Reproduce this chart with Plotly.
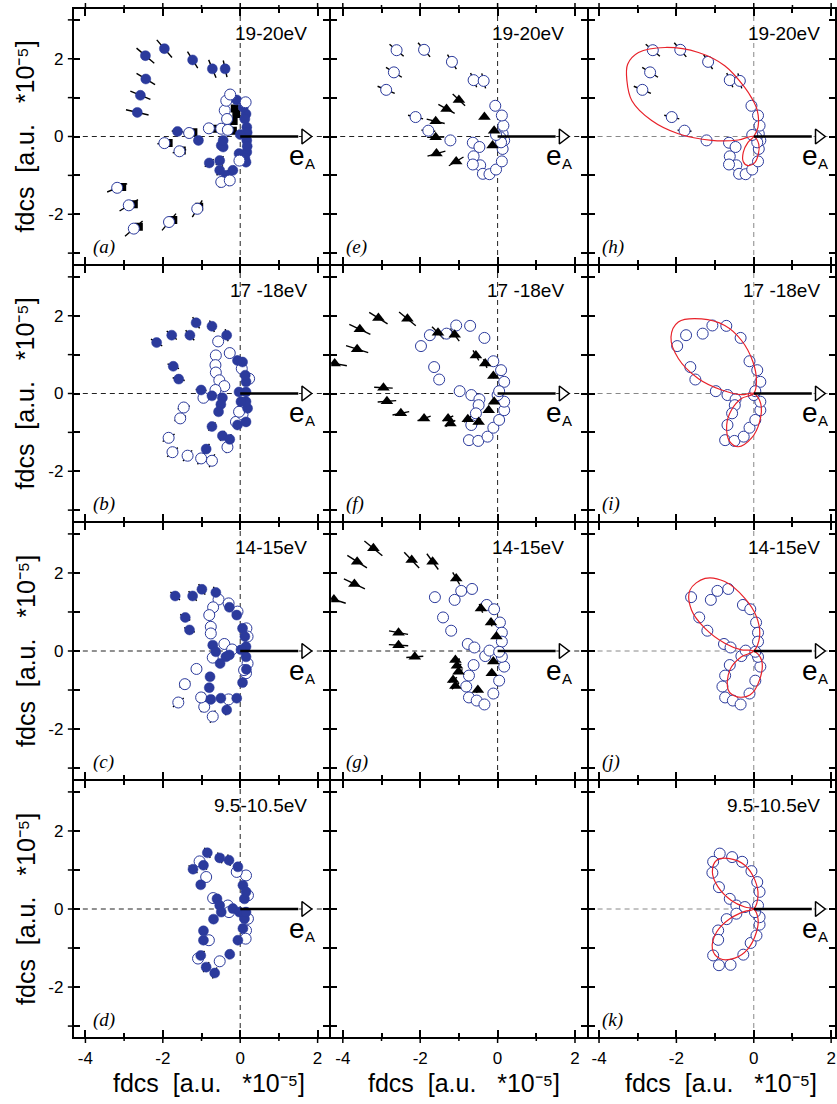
import math
import plotly.graph_objects as go

# ------------------------------------------------------------------ data
# (a) 19-20 eV : filled circles, open circles, hidden squares
a_fill_x = [-2.45, -1.96, -1.23, -0.72, -0.39, -2.44, -2.58, -2.66, -1.62, -1.08, -0.80, -0.49, -0.53,
            -0.09, 0.15, 0.17, 0.17, 0.17, 0.15, -0.03, -0.19, -0.36, -0.53, -0.44, -0.44, 0.08, 0.12,
            0.18, 0.18, 0.12, 0.00]
a_fill_y = [2.08, 2.26, 1.97, 1.74, 1.74, 1.48, 1.06, 0.62, 0.13, -0.10, -0.68, -0.23, -0.62,
            0.94, 0.58, 0.24, -0.10, -0.40, -0.66, -0.44, -0.87, -1.00, -0.87, -0.27, -0.10, 0.75, 0.45,
            0.10, -0.25, -0.55, 0.05]
a_fill_e = [0.30, 0.30, 0.25, 0.25, 0.22, 0.28, 0.28, 0.30, 0.15, 0.12, 0.15, 0.10, 0.15,
            0.12, 0.10, 0.05, 0.05, 0.08, 0.10, 0.08, 0.12, 0.15, 0.15, 0.10, 0.10, 0.10, 0.06,
            0.05, 0.05, 0.08, 0.04]
a_open_x = [-3.18, -2.88, -2.75, -1.84, -1.11, -1.96, -1.57, -1.32, -0.81, -0.49, -0.40, -0.36, -0.26,
            -0.49, -0.27, 0.14, -0.02, -0.34, -0.32]
a_open_y = [-1.32, -1.77, -2.37, -2.20, -1.86, -0.17, -0.38, 0.09, 0.21, 0.20, 0.67, 0.92, 1.08,
            -1.17, -1.13, 0.88, -0.62, 0.45, 0.17]
a_open_e = [0.28, 0.28, 0.30, 0.28, 0.25, 0.18, 0.18, 0.15, 0.15, 0.12, 0.12, 0.12, 0.14,
            0.15, 0.15, 0.12, 0.10, 0.12, 0.12]
a_sq_x = [-3.05, -2.75, -2.62, -1.73, -1.06, -1.85, -1.51, -1.21, -0.70, -0.19, -0.10, -0.17, -0.14]
a_sq_y = [-1.30, -1.74, -2.32, -2.15, -1.81, -0.17, -0.36, 0.11, 0.20, 0.15, 0.58, 0.40, 0.72]

# (e)/(h) 19-20 eV : open circles, (e) triangles, (h) theory
e_open_x = [-2.61, -1.90, -1.18, -0.62, -0.36, -2.68, -2.88, -2.12, -1.79, -1.22, -0.64, -0.47, -0.62,
            -0.45, -0.38, -0.21, -0.04, 0.11, 0.13, 0.17, 0.13, 0.15, 0.11, -0.06, 0.07, 0.09, -0.04, -0.64]
e_open_y = [2.22, 2.23, 1.92, 1.45, 1.43, 1.65, 1.20, 0.50, 0.15, -0.10, -0.16, -0.27, -0.51,
            -0.74, -0.96, -0.97, -0.85, -0.64, -0.32, -0.10, 0.07, 0.28, 0.54, 0.79, -0.02, -0.15, 0.04, -0.72]
e_open_e = [0.24, 0.24, 0.22, 0.20, 0.20, 0.24, 0.24, 0.20, 0.18, 0, 0, 0, 0,
            0, 0, 0, 0, 0, 0, 0, 0, 0, 0, 0, 0, 0, 0, 0]
e_tri_x = [-1.00, -1.32, -1.60, -1.60, -1.58, -1.07, -0.34, -0.13, -0.09]
e_tri_y = [0.94, 0.71, 0.39, -0.02, -0.44, -0.64, 0.50, -0.23, 0.15]
e_tri_e = [0.22, 0.24, 0.24, 0.22, 0.24, 0.22, 0.05, 0.05, 0.05]
h_th_x = [0.00, 0.11, 0.09, -0.06, -0.23, -0.75, -1.43, -2.29, -2.98, -3.26, -3.28, -3.15, -2.64, -1.95,
          -1.09, -0.40, 0.00, 0.13, 0.12, 0.02, -0.15, -0.27, -0.27, -0.15, 0.00]
h_th_y = [0.00, 0.24, 0.67, 1.00, 1.26, 1.82, 2.16, 2.29, 2.16, 1.86, 1.44, 0.92, 0.41, 0.07,
          -0.10, -0.09, 0.00, -0.20, -0.45, -0.68, -0.75, -0.65, -0.40, -0.15, 0.00]

# (b) 17-18 eV
b_fill_x = [-2.16, -1.77, -1.30, -1.14, -0.73, -0.35, -1.73, -1.59, -1.01, -0.73, -0.46, -0.50, -0.56,
            -0.73, -0.46, -0.27, -0.88, -0.07, 0.15, 0.19, 0.15, 0.15, 0.15, 0.13, 0.06, -0.07, -0.03, 0.02]
b_fill_y = [1.31, 1.50, 1.50, 1.82, 1.73, 1.50, 0.70, 0.37, 0.09, -0.06, -0.11, -0.28, -0.47,
            -0.85, -1.09, -1.18, -1.43, -0.81, -0.73, -0.38, -0.21, 0.04, 0.30, 0.47, 0.81, 0.85, 0.04, -0.21]
b_fill_e = [0.17, 0.17, 0.17, 0.17, 0.16, 0.16, 0.16, 0.16, 0.14, 0.13, 0.12, 0.12, 0.12,
            0.14, 0.14, 0.14, 0.16, 0.12, 0.12, 0.12, 0.10, 0.10, 0.10, 0.10, 0.12, 0.12, 0.05, 0.05]
b_open_x = [-0.57, -0.63, -0.64, -0.63, -0.54, -0.41, -0.64, -0.95, -1.46, -1.55, -1.85, -1.75, -1.36,
            -1.01, -0.73, -0.33, -0.27, -0.11, 0.06, 0.23, 0.04, -0.03]
b_open_y = [1.34, 0.98, 0.73, 0.54, 0.34, 0.19, 0.09, -0.11, -0.36, -0.64, -1.14, -1.51, -1.60,
            -1.67, -1.73, -1.38, 1.04, -0.73, -0.54, 0.38, 0.64, -0.47]
b_open_e = [0, 0, 0, 0, 0, 0, 0, 0, 0.16, 0.16, 0.18, 0.18, 0.18,
            0.18, 0.18, 0.16, 0, 0, 0, 0, 0, 0]

# (f)/(i) 17-18 eV
f_tri_x = [-3.08, -2.33, -3.56, -3.63, -4.21, -1.54, -1.11, -0.56, -0.32, -0.11, -2.95, -2.86, -2.50,
           -1.90, -1.28, -1.22, -0.77, -0.49, -0.23, -0.09]
f_tri_y = [1.94, 1.92, 1.65, 1.14, 0.77, 1.56, 1.51, 0.98, 0.77, 0.45, 0.15, -0.20, -0.51,
           -0.64, -0.64, -0.77, -0.66, -0.73, -0.43, -0.21]
f_tri_e = [0.28, 0.28, 0.30, 0.30, 0.32, 0.22, 0.20, 0.15, 0.12, 0.06, 0.24, 0.24, 0.22,
           0.18, 0.15, 0.15, 0.12, 0.10, 0.06, 0.05]
f_open_x = [-1.98, -1.75, -1.32, -1.07, -0.71, -0.34, -1.64, -1.51, -0.98, -0.68, -0.47, -0.49, -0.56,
            -0.68, -0.74, -0.50, -0.26, -0.11, 0.04, 0.17, 0.17, 0.17, 0.09, -0.11, 0.00, 0.04]
f_open_y = [1.22, 1.50, 1.54, 1.75, 1.74, 1.43, 0.68, 0.36, 0.06, -0.04, -0.15, -0.30, -0.51,
            -0.81, -1.20, -1.22, -1.11, -0.88, -0.68, -0.43, -0.21, 0.30, 0.60, 0.83, -0.04, 0.06]
i_th_x = [0.00, 0.07, -0.02, -0.32, -0.75, -1.35, -1.95, -2.14, -1.95, -1.43, -0.83, -0.32, 0.00,
          0.18, 0.15, -0.06, -0.40, -0.62, -0.70, -0.58, -0.32, 0.00]
i_th_y = [0.00, 0.30, 0.81, 1.37, 1.75, 1.92, 1.84, 1.45, 0.90, 0.38, 0.09, -0.03, 0.00,
          -0.26, -0.73, -1.15, -1.37, -1.24, -0.81, -0.43, -0.13, 0.00]

# (c) 14-15 eV
c_fill_x = [-1.68, -1.23, -0.99, -0.63, -1.42, -1.31, -0.28, -0.09, 0.06, 0.12, -0.71, -0.63, -0.37,
            -0.28, -0.52, -0.78, -0.80, -0.76, -0.50, -0.35, -0.09, 0.06, 0.16, 0.15, 0.15, 0.02]
c_fill_y = [1.41, 1.41, 1.58, 1.50, 0.86, 0.54, 1.12, 0.92, 0.58, 0.37, 0.15, -0.02, -0.15,
            -0.10, -0.32, -0.66, -0.94, -1.24, -1.21, -1.51, -1.21, -0.81, -0.47, -0.15, 0.11, 0.03]
c_fill_e = [0.16, 0.16, 0.16, 0.16, 0.15, 0.15, 0.12, 0.10, 0.08, 0.08, 0.10, 0.08, 0.08,
            0.08, 0.08, 0.10, 0.10, 0.13, 0.12, 0.14, 0.10, 0.08, 0.08, 0.05, 0.05, 0.04]
c_open_x = [-0.56, -0.70, -0.80, -0.76, -0.76, -0.41, -0.21, -0.71, -1.13, -1.43, -1.60, -0.93, -0.71,
            -1.01, -0.30, -0.30, -0.07, 0.16, 0.19, 0.19, 0.15, 0.10]
c_open_y = [1.32, 1.12, 0.92, 0.62, 0.45, 0.18, 0.04, -0.17, -0.46, -0.85, -1.32, -1.43, -1.68,
            -1.19, -1.24, 1.22, 1.01, 0.58, 0.37, -0.32, -0.57, -0.49]
c_open_e = [0, 0, 0, 0, 0, 0, 0, 0, 0.15, 0.16, 0.18, 0.16, 0.17,
            0.15, 0, 0, 0, 0, 0, 0, 0, 0]

# (g)/(j) 14-15 eV
g_tri_x = [-3.21, -3.63, -2.22, -1.68, -3.70, -4.23, -1.07, -0.43, -0.17, -0.03, -2.56, -2.56, -2.14,
           -1.09, -1.05, -1.01, -1.15, -1.09, -0.51, -0.15, -0.11]
g_tri_y = [2.63, 2.29, 2.33, 2.29, 1.72, 1.32, 1.86, 1.09, 0.73, 0.37, 0.47, 0.15, -0.15,
           -0.23, -0.38, -0.53, -0.74, -0.90, -1.00, -0.57, -0.27]
g_tri_e = [0.30, 0.30, 0.28, 0.25, 0.30, 0.32, 0.18, 0.12, 0.10, 0.05, 0.25, 0.25, 0.22,
           0.12, 0.12, 0.12, 0.12, 0.12, 0.08, 0.05, 0.04]
g_open_x = [-1.62, -1.11, -0.94, -0.66, -1.41, -1.20, -0.28, -0.09, 0.06, 0.11, 0.11, -0.77, -0.60,
            -0.32, -0.21, -0.62, -0.74, -0.81, -0.74, -0.54, -0.34, -0.11, 0.04, 0.17, 0.11, 0.04]
g_open_y = [1.38, 1.31, 1.54, 1.59, 0.86, 0.52, 1.18, 1.07, 0.73, 0.47, 0.24, 0.18, 0.09,
            -0.13, 0.01, -0.36, -0.63, -0.91, -1.19, -1.27, -1.37, -1.09, -0.76, -0.40, -0.15, -0.02]
j_th_x = [0.00, 0.15, 0.07, -0.23, -0.75, -1.26, -1.65, -1.61, -1.26, -0.75, -0.32, 0.00,
          0.20, 0.15, -0.10, -0.45, -0.66, -0.62, -0.32, 0.00]
j_th_y = [0.00, 0.37, 0.88, 1.35, 1.78, 1.86, 1.56, 1.05, 0.58, 0.20, 0.03, 0.00,
          -0.23, -0.74, -1.13, -1.17, -1.00, -0.49, -0.15, 0.00]

# (d) 9.5-10.5 eV
d_fill_x = [-0.85, -0.53, -0.29, -1.22, -0.95, -1.02, -0.60, -0.53, -0.49, -0.69, -0.95, -0.95, -1.02,
            -0.88, -0.66, -0.27, -0.06, 0.07, 0.11, 0.11, 0.07, -0.06, -0.19, -0.02, 0.15, 0.15]
d_fill_y = [1.44, 1.31, 1.25, 1.02, 1.12, 0.62, 0.26, 0.09, -0.08, -0.26, -0.56, -0.80, -1.19,
            -1.49, -1.64, -1.16, -0.80, -0.50, -0.25, 0.26, 0.61, 1.08, 0.01, -0.08, 0.44, -0.08]
d_fill_e = [0.15, 0.15, 0.15, 0.15, 0.14, 0.12, 0.08, 0.06, 0.06, 0.08, 0.10, 0.12, 0.15,
            0.15, 0.15, 0.13, 0.10, 0.08, 0.06, 0.06, 0.08, 0.12, 0.04, 0.04, 0.05, 0.04]
d_open_x = [-1.05, -0.88, -0.70, -0.32, -0.29, -0.81, -1.09, -0.53, 0.15, 0.20, 0.15, 0.14, -0.09, 0.20]
d_open_y = [1.22, 0.82, 0.28, 0.09, -0.08, -0.80, -1.27, -1.34, 0.86, 0.35, -0.55, -0.76, 0.95, -0.25]

# (k) 9.5-10.5 eV
k_open_x = [-0.88, -0.56, -0.30, -1.05, -1.07, -0.90, -0.62, -0.45, -0.23, -0.45, -0.70, -0.92, -0.92,
            -1.05, -0.90, -0.60, -0.27, -0.08, 0.07, 0.15, 0.15, 0.15, 0.09, -0.06, 0.03, 0.11]
k_open_y = [1.42, 1.33, 1.21, 1.21, 0.93, 0.56, 0.26, 0.09, 0.05, -0.12, -0.26, -0.55, -0.79,
            -1.19, -1.44, -1.43, -1.17, -0.87, -0.68, -0.40, -0.21, 0.44, 0.69, 0.97, -0.08, 0.09]
k_th_x = [0.00, 0.11, 0.03, -0.23, -0.62, -0.96, -1.07, -0.92, -0.58, -0.23, 0.00,
          0.11, 0.07, -0.15, -0.49, -0.88, -1.07, -0.96, -0.62, -0.23, 0.00]
k_th_y = [0.00, 0.35, 0.74, 1.12, 1.29, 1.25, 0.95, 0.56, 0.22, 0.05, 0.00,
          -0.25, -0.59, -1.02, -1.26, -1.27, -1.02, -0.59, -0.25, -0.06, 0.00]

energy_labels = ["19-20eV", "17 -18eV", "14-15eV", "9.5-10.5eV"]
panel_letters = [["a", "e", "h"], ["b", "f", "i"], ["c", "g", "j"], ["d", None, "k"]]
x_tick_vals = [-4, -2, 0, 2]
x_tick_text = ["-4", "-2", "0", "2"]
x_minor_vals = [-3, -1, 1]
y_tick_vals = [-2, 0, 2]
y_tick_text = ["-2", "0", "2"]
y_minor_vals = [-3, -1, 1, 3]

# ------------------------------------------------------------------ layout constants
W, H = 837, 1104
LW = 2
# plot-area pixel boxes (a gap of LW so that neighbouring axis lines coincide)
COL_PX = [(74, 330), (332, 588), (590, 837)]
ROW_PX = [(9, 264), (266, 521), (523, 779), (781, 1037)]
X_RANGES = [[-4.30, 2.30], [-4.30, 2.30], [-4.27, 2.10]]
Y_RANGE = [-3.28, 3.28]
BLUE = "#2b3a9c"
RED = "#e8222a"
FONT = "Liberation Sans"
EA_LEN = 1.5   # arrow shaft length (decoration)
EA_HEAD = 1.68
OUT_MAJOR, OUT_MINOR = 5, 3   # outward part of the crossing ticks on the outer frame (px)

fig = go.Figure()


def radial(xs, ys, es):
    sx, sy = [], []
    for x, y, e in zip(xs, ys, es):
        r = math.hypot(x, y)
        if e <= 0 or r == 0:
            continue
        ux, uy = x / r, y / r
        sx += [x - e * ux, x + e * ux, None]
        sy += [y - e * uy, y + e * uy, None]
    return sx, sy


def ax_names(r, c):
    n = r * 3 + c + 1
    s = "" if n == 1 else str(n)
    return "x" + s, "y" + s, n


def xpx(c, v):
    x0, x1 = COL_PX[c]
    a, b = X_RANGES[c]
    return x0 + (v - a) / (b - a) * (x1 - x0)


def ypx(r, v):
    y0, y1 = ROW_PX[r]
    return y1 - (v - Y_RANGE[0]) / (Y_RANGE[1] - Y_RANGE[0]) * (y1 - y0)


def add_err(r, c, xs, ys, es):
    xa, ya, _ = ax_names(r, c)
    sx, sy = radial(xs, ys, es)
    fig.add_trace(go.Scatter(x=sx, y=sy, mode="lines", line=dict(color="black", width=1.4),
                             xaxis=xa, yaxis=ya, showlegend=False, hoverinfo="skip"))


def add_pts(r, c, xs, ys, kind):
    xa, ya, _ = ax_names(r, c)
    if kind == "fill":
        m = dict(symbol="circle", size=10, color=BLUE, line=dict(color=BLUE, width=0.5))
    elif kind == "open":
        m = dict(symbol="circle", size=11, color="white", line=dict(color=BLUE, width=1))
    elif kind == "tri":
        m = dict(symbol="triangle-up", size=11, color="black", line=dict(color="black", width=0))
    else:
        m = dict(symbol="square", size=8, color="black", line=dict(color="black", width=0))
    fig.add_trace(go.Scatter(x=xs, y=ys, mode="markers", marker=m, xaxis=xa, yaxis=ya,
                             showlegend=False))


def add_theory(r, c, xs, ys):
    xa, ya, _ = ax_names(r, c)
    fig.add_trace(go.Scatter(x=xs, y=ys, mode="lines", line=dict(color=RED, width=1.2, shape="spline",
                                                                 smoothing=1.0),
                             xaxis=xa, yaxis=ya, showlegend=False))


# ---- panel content
# row 0
add_err(0, 0, a_fill_x, a_fill_y, a_fill_e)
add_err(0, 0, a_open_x, a_open_y, a_open_e)
add_pts(0, 0, a_sq_x, a_sq_y, "sq")
add_pts(0, 0, a_fill_x, a_fill_y, "fill")
add_pts(0, 0, a_open_x, a_open_y, "open")
add_err(0, 1, e_open_x, e_open_y, e_open_e)
add_err(0, 1, e_tri_x, e_tri_y, e_tri_e)
add_pts(0, 1, e_open_x, e_open_y, "open")
add_pts(0, 1, e_tri_x, e_tri_y, "tri")
add_err(0, 2, e_open_x, e_open_y, e_open_e)
add_pts(0, 2, e_open_x, e_open_y, "open")
add_theory(0, 2, h_th_x, h_th_y)
# row 1
add_err(1, 0, b_fill_x, b_fill_y, b_fill_e)
add_err(1, 0, b_open_x, b_open_y, b_open_e)
add_pts(1, 0, b_open_x, b_open_y, "open")
add_pts(1, 0, b_fill_x, b_fill_y, "fill")
add_err(1, 1, f_tri_x, f_tri_y, f_tri_e)
add_pts(1, 1, f_open_x, f_open_y, "open")
add_pts(1, 1, f_tri_x, f_tri_y, "tri")
add_pts(1, 2, f_open_x, f_open_y, "open")
add_theory(1, 2, i_th_x, i_th_y)
# row 2
add_err(2, 0, c_fill_x, c_fill_y, c_fill_e)
add_err(2, 0, c_open_x, c_open_y, c_open_e)
add_pts(2, 0, c_open_x, c_open_y, "open")
add_pts(2, 0, c_fill_x, c_fill_y, "fill")
add_err(2, 1, g_tri_x, g_tri_y, g_tri_e)
add_pts(2, 1, g_open_x, g_open_y, "open")
add_pts(2, 1, g_tri_x, g_tri_y, "tri")
add_pts(2, 2, g_open_x, g_open_y, "open")
add_theory(2, 2, j_th_x, j_th_y)
# row 3
add_err(3, 0, d_fill_x, d_fill_y, d_fill_e)
add_pts(3, 0, d_open_x, d_open_y, "open")
add_pts(3, 0, d_fill_x, d_fill_y, "fill")
add_pts(3, 2, k_open_x, k_open_y, "open")
add_theory(3, 2, k_th_x, k_th_y)
# the empty panel still needs a (data-less) trace so that its frame is drawn
fig.add_trace(go.Scatter(x=[None], y=[None], mode="markers", xaxis="x11", yaxis="y11",
                         showlegend=False, hoverinfo="skip"))

shapes, annots = [], []
layout = {}
for r in range(4):
    for c in range(3):
        xa, ya, n = ax_names(r, c)
        x0, x1 = COL_PX[c]
        y0, y1 = ROW_PX[r]
        xkey = "xaxis" if n == 1 else f"xaxis{n}"
        ykey = "yaxis" if n == 1 else f"yaxis{n}"
        show_x = (r == 3)
        show_y = (c == 0)
        xax = dict(
            domain=[x0 / W, x1 / W], anchor=ya, range=X_RANGES[c], showgrid=False, zeroline=False,
            showline=True, linecolor="black", linewidth=LW, mirror="ticks",
            ticks="inside", ticklen=7, tickwidth=1.5, tickcolor="black",
            showticklabels=show_x, tickfont=dict(family=FONT, size=17, color="black"),
            minor=dict(tickvals=x_minor_vals, ticks="inside", ticklen=4, tickwidth=1.5, tickcolor="black"),
            fixedrange=True)
        if show_x:
            xax.update(tickmode="array", tickvals=x_tick_vals, ticktext=x_tick_text, ticklabelstandoff=5)
        else:
            xax.update(tickmode="linear", tick0=0, dtick=2)
        yax = dict(
            domain=[1 - y1 / H, 1 - y0 / H], anchor=xa, range=Y_RANGE, showgrid=False, zeroline=False,
            showline=True, linecolor="black", linewidth=LW, mirror="ticks",
            ticks="inside", ticklen=6, tickwidth=1.5, tickcolor="black",
            minor=dict(tickvals=y_minor_vals, ticks="inside", ticklen=6, tickwidth=1.5, tickcolor="black"),
            showticklabels=show_y, tickfont=dict(family=FONT, size=17, color="black"),
            fixedrange=True)
        if show_y:
            yax.update(tickmode="array", tickvals=y_tick_vals, ticktext=y_tick_text, ticklabelstandoff=5)
        else:
            yax.update(tickmode="linear", tick0=0, dtick=2)
        layout[xkey] = xax
        layout[ykey] = yax

        # outward halves of the crossing ticks on the outer frame
        tick_line = dict(color="black", width=1.5)
        if c == 0:
            xl = x0 - LW / 2
            for v in y_tick_vals + y_minor_vals:
                py = ypx(r, v)
                shapes.append(dict(type="line", xref="paper", yref="paper", x0=(xl - OUT_MAJOR) / W,
                                   x1=xl / W, y0=1 - py / H, y1=1 - py / H, line=tick_line))
        for edge, rr in (("top", 0), ("bottom", 3)):
            if r != rr:
                continue
            yl = (y0 - LW / 2) if edge == "top" else (y1 + LW / 2)
            sgn = -1 if edge == "top" else 1
            for v, ln in [(v, OUT_MAJOR) for v in x_tick_vals] + [(v, OUT_MINOR) for v in x_minor_vals]:
                px = xpx(c, v)
                if px > W:
                    continue
                shapes.append(dict(type="line", xref="paper", yref="paper", x0=px / W, x1=px / W,
                                   y0=1 - yl / H, y1=1 - (yl + sgn * ln) / H, line=tick_line))

        if r == 3 and c == 1:
            continue
        dcol = "#888888" if c == 2 else "#222222"
        shapes.append(dict(type="line", xref=f"{xa} domain", yref=ya, x0=0, x1=1, y0=0, y1=0,
                           line=dict(color=dcol, width=1, dash="5px,4px"), layer="below"))
        shapes.append(dict(type="line", xref=xa, yref=f"{ya} domain", x0=0, x1=0, y0=0, y1=1,
                           line=dict(color=dcol, width=1, dash="5px,4px"), layer="below"))
        # e_A arrow
        fig.add_trace(go.Scatter(x=[0, EA_LEN], y=[0, 0], mode="lines", line=dict(color="black", width=2.6),
                                 xaxis=xa, yaxis=ya, showlegend=False, hoverinfo="skip"))
        fig.add_trace(go.Scatter(x=[EA_HEAD], y=[0], mode="markers",
                                 marker=dict(symbol="triangle-right", size=13, color="white",
                                             line=dict(color="black", width=1.5)),
                                 xaxis=xa, yaxis=ya, showlegend=False, hoverinfo="skip"))
        annots.append(dict(xref=xa, yref=ya, x=1.2, y=-0.50, xanchor="left", yanchor="middle",
                           showarrow=False, text="e",
                           font=dict(family=FONT, size=28, color="black")))
        annots.append(dict(xref=xa, yref=ya, x=1.62, y=-0.70, xanchor="left", yanchor="middle",
                           showarrow=False, text="A",
                           font=dict(family=FONT, size=15, color="black")))
        annots.append(dict(xref=xa, yref=ya, x=1.77, y=2.66, xanchor="right", yanchor="middle",
                           showarrow=False, text=energy_labels[r],
                           font=dict(family=FONT, size=19, color="black")))
        lx = -3.85 if c == 0 else -3.98
        annots.append(dict(xref=xa, yref=ya, x=lx, y=-2.85, xanchor="left", yanchor="middle",
                           showarrow=False, text=f"<i>({panel_letters[r][c]})</i>",
                           font=dict(family="Liberation Serif", size=19, color="black")))

NB = "\u00a0"
title_txt = f"fdcs{NB}{NB}[a.u.{NB}{NB}{NB}*10\u207b\u2075]"
for r in range(4):
    y0, y1 = ROW_PX[r]
    annots.append(dict(xref="paper", yref="paper", x=26 / W, y=1 - (y0 + y1) / 2 / H,
                       xanchor="center", yanchor="middle", textangle=-90, showarrow=False,
                       text=title_txt, font=dict(family=FONT, size=25, color="black")))
for c, cx in enumerate([209, 465, 723]):
    annots.append(dict(xref="paper", yref="paper", x=cx / W, y=1 - 1083 / H,
                       xanchor="center", yanchor="middle", showarrow=False,
                       text=title_txt, font=dict(family=FONT, size=25, color="black")))

fig.update_layout(width=W, height=H, margin=dict(l=0, r=0, t=0, b=0), plot_bgcolor="white",
                  paper_bgcolor="white", shapes=shapes, annotations=annots, **layout)
fig.write_html("out.html")
